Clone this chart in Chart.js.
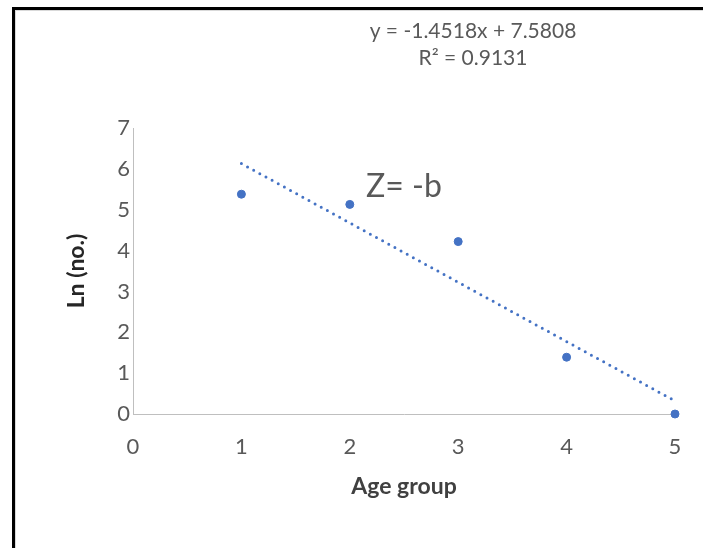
<!DOCTYPE html>
<html>
<head>
<meta charset="utf-8">
<script src="https://cdn.jsdelivr.net/npm/chart.js@4.4.0/dist/chart.umd.min.js"></script>
<style>
  body { margin: 0; background: #fff; }
  #wrap { position: relative; width: 703px; height: 548px; overflow: hidden; }
  #canvas { position: absolute; left: 0; top: 0; }
  #frame { position: absolute; left: 12px; top: 7px; width: 700px; height: 560px;
           border-left: 3px solid #000; border-top: 3px solid #000; pointer-events: none; }
  #inner { position: absolute; left: 15px; top: 10px; width: 700px; height: 560px;
           border-left: 1px solid #d9d9d9; border-top: 1px solid #d9d9d9; pointer-events: none; }
</style>
</head>
<body>
<div id="wrap">
  <canvas id="canvas" width="703" height="548"></canvas>
  <div id="inner"></div>
  <div id="frame"></div>
</div>
<script>
// data
const ageGroup = [1, 2, 3, 4, 5];
const lnNo = [5.38, 5.13, 4.22, 1.39, 0];
const trendX = [1, 5];
const trendY = [6.13, 0.32];
const xTicks = [0, 1, 2, 3, 4, 5];
const yTicks = [0, 1, 2, 3, 4, 5, 6, 7];
const eqLine1 = "y = -1.4518x + 7.5808";
const eqLine2 = "R\u00B2 = 0.9131";
const note = "Z= -b";

const blue = "#4472c4";
const grey = "#595959";
const fontName = "Lato, 'Open Sans', sans-serif";

let points = ageGroup.map((a, i) => ({ x: a, y: lnNo[i] }));
let trend = trendX.map((a, i) => ({ x: a, y: trendY[i] }));

// extra text: trendline equation and note
const textPlugin = {
    id: "extraText",
    afterDraw(chart) {
        const ctx = chart.ctx;
        ctx.save();
        ctx.fillStyle = grey;
        ctx.textAlign = "center";
        ctx.textBaseline = "middle";
        ctx.font = "21px " + fontName;
        ctx.fillText(eqLine1, 473, 31);
        ctx.fillText(eqLine2, 473, 58);
        ctx.font = "32px " + fontName;
        ctx.fillText(note, 404, 187);
        ctx.restore();
    }
};

let ctx = document.getElementById("canvas").getContext("2d");

let myChart = new Chart(ctx, {
    type: "scatter",
    data: {
        datasets: [
            {
                label: "Ln (no.)",
                data: points,
                backgroundColor: blue,
                borderColor: blue,
                pointRadius: 4,
                pointHoverRadius: 4,
                clip: false,
            },
            {
                label: "Linear",
                data: trend,
                type: "line",
                showLine: true,
                borderColor: blue,
                borderWidth: 3,
                borderDash: [0, 7],
                borderCapStyle: "round",
                pointRadius: 0,
                fill: false,
                clip: false,
            }
        ],
    },
    options: {
        responsive: false,
        animation: false,
        layout: { padding: { left: 59, right: 28, top: 128, bottom: 44 } },
        plugins: {
            legend: { display: false },
            tooltip: { enabled: false },
        },
        scales: {
            x: {
                type: "linear",
                min: 0,
                max: 5,
                afterBuildTicks: (s) => { s.ticks = xTicks.map(v => ({ value: v })); },
                afterFit: (s) => { s.height = 90; },
                grid: { display: false, drawTicks: false },
                border: { color: "#bfbfbf", width: 1 },
                ticks: { color: grey, padding: 20, font: { family: fontName, size: 22 } },
                title: {
                    display: true,
                    text: "Age group",
                    color: "#404040",
                    padding: { top: 4, bottom: 4 },
                    font: { family: fontName, size: 23, weight: "bold" },
                },
            },
            y: {
                min: 0,
                max: 7,
                afterBuildTicks: (s) => { s.ticks = yTicks.map(v => ({ value: v })); },
                afterFit: (s) => { s.width = 74; },
                grid: { display: false, drawTicks: false },
                border: { color: "#bfbfbf", width: 1 },
                ticks: { color: grey, padding: 3, font: { family: fontName, size: 22 } },
                title: {
                    display: true,
                    text: "Ln (no.)",
                    color: "#262626",
                    padding: { top: 4, bottom: 4 },
                    font: { family: fontName, size: 23, weight: "bold" },
                },
            },
        },
    },
    plugins: [textPlugin],
});
</script>
</body>
</html>
